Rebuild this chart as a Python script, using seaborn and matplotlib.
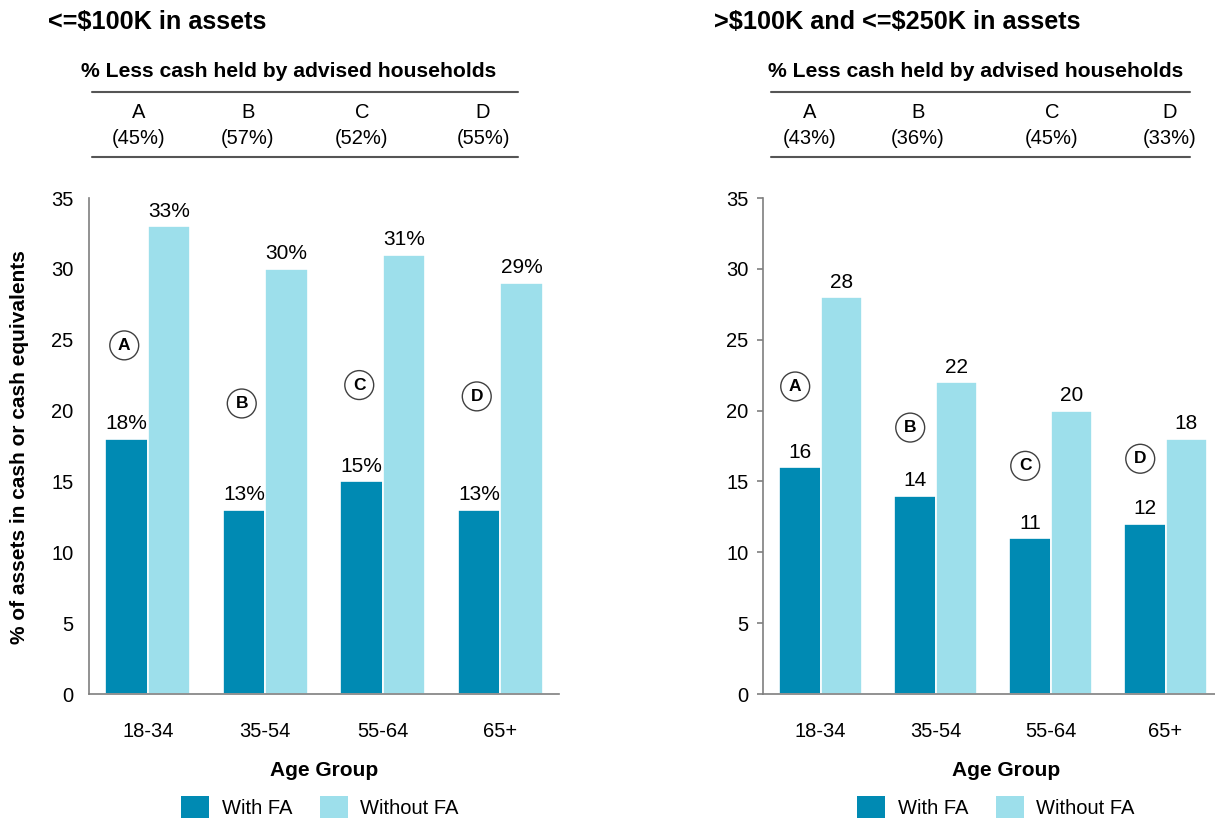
import numpy as np
import pandas as pd
import matplotlib
matplotlib.use("Agg")
import matplotlib.pyplot as plt
from matplotlib.patches import Patch
from matplotlib.lines import Line2D
import seaborn as sns

# ---------------- data ----------------
age_groups = ["18-34", "35-54", "55-64", "65+"]
series_names = ["With FA", "Without FA"]

low_with = [18, 13, 15, 13]
low_without = [33, 30, 31, 29]
mid_with = [16, 14, 11, 12]
mid_without = [28, 22, 20, 18]

letters = ["A", "B", "C", "D"]
low_less_cash = ["(45%)", "(57%)", "(52%)", "(55%)"]
mid_less_cash = ["(43%)", "(36%)", "(45%)", "(33%)"]

# circle marker heights (y value where the letter badge sits)
low_badge_y = [24.6, 20.5, 21.8, 21.0]
mid_badge_y = [21.7, 18.8, 16.1, 16.6]

DARK = "#008AB3"
LIGHT = "#9DDFEB"
GREY = "#7f7f7f"

sns.set_theme(style="white")
plt.rcParams["font.family"] = ["Liberation Sans", "DejaVu Sans"]
plt.rcParams["text.color"] = "black"
plt.rcParams["xtick.color"] = "black"
plt.rcParams["ytick.color"] = "black"
plt.rcParams["axes.labelcolor"] = "black"

W, H = 1215, 822
fig = plt.figure(figsize=(W / 100, H / 100), dpi=100)


def fx(x):
    return x / W


def fy(y):
    return 1 - y / H


def make_df(with_vals, without_vals):
    rows = []
    for g, a, b in zip(age_groups, with_vals, without_vals):
        rows.append({"age": g, "fa": series_names[0], "value": a})
        rows.append({"age": g, "fa": series_names[1], "value": b})
    return pd.DataFrame(rows)


def draw_panel(ax, df, fmt, badge_y, badge_dx, show_ticks, xmax):
    sns.barplot(data=df, x="age", y="value", hue="fa", order=age_groups,
                hue_order=series_names, palette=[DARK, LIGHT], saturation=1,
                width=0.72, edgecolor="white", linewidth=1.2, ax=ax, legend=False)
    ax.set_ylim(0, 35)
    ax.set_xlim(-0.5, xmax)
    ax.set_yticks(range(0, 36, 5))
    ax.set_xlabel("")
    ax.set_ylabel("")
    for s in ["top", "right"]:
        ax.spines[s].set_visible(False)
    for s in ["left", "bottom"]:
        ax.spines[s].set_color(GREY)
        ax.spines[s].set_linewidth(1.2)
    ax.tick_params(axis="x", length=0, pad=20, labelsize=14.5)
    if show_ticks:
        ax.tick_params(axis="y", left=True, length=4.5, width=1.2, color=GREY,
                       direction="out", pad=6, labelsize=14.5)
    else:
        ax.tick_params(axis="y", left=False, length=0, pad=11, labelsize=14.5)
    for cont in ax.containers:
        ax.bar_label(cont, fmt=fmt, padding=4, fontsize=15)
    for i, (lt, yv) in enumerate(zip(letters, badge_y)):
        ax.text(i + badge_dx, yv, lt, ha="center", va="center", fontsize=12.5,
                fontweight="bold",
                bbox=dict(boxstyle="circle,pad=0.4", fc="white", ec="#404040", lw=1))


def draw_header(title, title_x, sub_x, line_x0, line_x1, letter_x, pcts):
    fig.text(fx(title_x), fy(22), title, fontsize=18.2, fontweight="bold",
             ha="left", va="center")
    fig.text(fx(sub_x), fy(71), "% Less cash held by advised households",
             fontsize=15.2, fontweight="bold", ha="center", va="center")
    for yy in (92, 157):
        fig.add_artist(Line2D([fx(line_x0), fx(line_x1)], [fy(yy), fy(yy)],
                              color="#555555", lw=1.5, transform=fig.transFigure))
    for x, lt, p in zip(letter_x, letters, pcts):
        fig.text(fx(x), fy(113), lt, fontsize=14.5, ha="center", va="center")
        fig.text(fx(x), fy(138), p, fontsize=14.5, ha="center", va="center")


# left panel
ax1 = fig.add_axes([fx(89), fy(694), (559 - 89) / W, (694 - 198) / H])
draw_panel(ax1, make_df(low_with, low_without), "%d%%", low_badge_y, -0.2, False, 3.5)
draw_header("<=\\$100K in assets", 48, 289, 92, 518, [139, 248, 362, 483], low_less_cash)
fig.text(fx(20), fy(447), "% of assets in cash or cash equivalents", rotation=90,
         fontsize=15, fontweight="bold", ha="center", va="center")
fig.text(fx(324), fy(770), "Age Group", fontsize=15, fontweight="bold",
         ha="center", va="center")

# right panel
ax2 = fig.add_axes([fx(763), fy(694), (1215 - 763) / W, (694 - 198) / H])
draw_panel(ax2, make_df(mid_with, mid_without), "%d", mid_badge_y, -0.22, True, 3.43)
draw_header(">\\$100K and <=\\$250K in assets", 714, 976, 771, 1190,
            [810, 918, 1052, 1170], mid_less_cash)
fig.text(fx(1006), fy(770), "Age Group", fontsize=15, fontweight="bold",
         ha="center", va="center")

handles = [Patch(facecolor=DARK, edgecolor="none", label=series_names[0]),
           Patch(facecolor=LIGHT, edgecolor="none", label=series_names[1])]
for cx in (320, 996):
    fig.legend(handles=handles, loc="center", bbox_to_anchor=(fx(cx), fy(807)),
               ncol=2, frameon=False, fontsize=14.5, handlelength=1.4,
               handleheight=1.3, handletextpad=0.6, columnspacing=1.4)

fig.savefig("out.png", dpi=100)
